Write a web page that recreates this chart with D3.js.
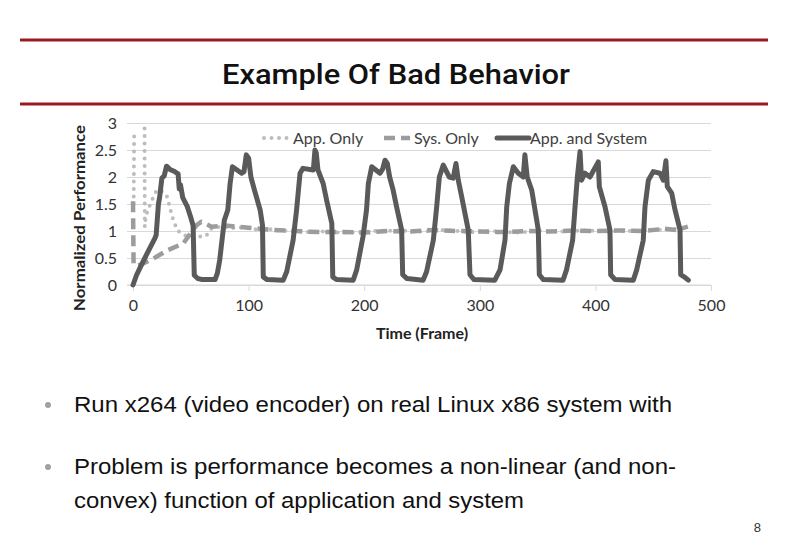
<!DOCTYPE html>
<html>
<head>
<meta charset="utf-8">
<script src="https://cdn.jsdelivr.net/npm/d3@7"></script>
<style>
  body { margin: 0; background: #fff; }
  svg { display: block; }
</style>
</head>
<body>
<div id="slide"></div>
<script>
// Data
const appSysFrames = [0, 3, 7, 13, 19, 20, 22, 23, 25, 27, 29, 32, 36, 39, 40, 41, 43, 47, 50, 52, 53, 56, 60, 71,
  73, 75, 79, 82, 84, 86, 90, 94, 96, 98, 100, 102, 105, 110, 112, 112.7, 116, 130,
  133, 138.5, 141.5, 144.5, 147, 156, 157.4, 158.5, 160, 164.5, 167.5, 172, 172.8, 176, 190.5,
  193.5, 199, 202, 203.6, 206.5, 213.7, 216, 218, 220, 222, 225, 228, 232.4, 233.3, 237, 251,
  254, 259.8, 262.7, 265, 268.4, 273.6, 277, 279.4, 281.4, 284.3, 290, 291.5, 295, 313,
  317.5, 321.8, 323.3, 325.6, 329, 333.3, 337.6, 339, 341, 344.9, 350.6, 351.5, 355, 372,
  375, 380.3, 382.4, 384.4, 386.7, 388, 391, 395.3, 402.5, 403.4, 408.3, 412.6, 413.2, 417, 432.8,
  435.7, 441.4, 442.9, 445.8, 450, 455.9, 458.7, 461, 462.2, 466, 468.9, 473.2, 473.8, 477.5, 480.4]
const appSysValues = [0, 0.18, 0.36, 0.62, 0.87, 0.92, 1.5, 1.62, 1.98, 2.02, 2.2, 2.14, 2.1, 2.06, 1.78, 1.86, 1.62, 1.45, 1.25, 1.1, 0.18, 0.12, 0.1, 0.1,
  0.22, 0.46, 1.2, 1.39, 1.88, 2.19, 2.13, 2.07, 2.1, 2.41, 2.35, 2.0, 1.76, 1.39, 1.11, 0.15, 0.1, 0.09,
  0.25, 0.83, 1.39, 2.07, 2.16, 2.13, 2.5, 2.45, 2.13, 1.88, 1.57, 1.14, 0.15, 0.1, 0.09,
  0.28, 0.9, 1.39, 1.88, 2.19, 2.07, 2.15, 2.31, 2.25, 2.0, 1.76, 1.45, 1.02, 0.19, 0.12, 0.09,
  0.25, 0.83, 1.45, 2.0, 2.22, 2.0, 1.98, 2.25, 1.94, 1.64, 1.02, 0.19, 0.1, 0.09,
  0.28, 0.83, 1.45, 1.88, 2.19, 2.07, 2.0, 2.41, 2.0, 1.76, 1.02, 0.19, 0.1, 0.09,
  0.28, 0.83, 1.45, 2.0, 2.47, 1.94, 2.07, 2.0, 2.28, 1.82, 1.45, 1.02, 0.19, 0.1, 0.09,
  0.28, 0.83, 1.45, 1.94, 2.1, 2.07, 1.94, 2.3, 1.82, 1.7, 1.39, 1.02, 0.19, 0.14, 0.09]

const sysFrames = [0, 0.5, 3, 6, 17.6, 30.5, 43.5, 55, 59, 68, 80, 100, 120, 140, 160, 180, 200, 220, 240,
  260, 280, 300, 320, 340, 360, 380, 400, 420, 440, 460, 470, 480]
const sysValues = [1.55, 0.4, 0.35, 0.37, 0.49, 0.65, 0.77, 1.11, 1.17, 1.08, 1.1, 1.06, 1.02, 1.0, 0.98, 0.98, 0.97, 1.0, 0.99,
  1.02, 1.0, 0.99, 0.98, 1.0, 0.99, 1.01, 1.0, 1.01, 1.0, 1.04, 1.02, 1.08]

// null marks a gap in the App. Only series
const appFrames = [0.6, 1, null, 10, 10.2, 11, 14, 17, 20.5, 25, 29, 31.4, 33.4, 35.5, 39, 46, 55, 63, 68, 75, 85, 95,
  105, 115, 125, 135, 150, 165, 180, 195, 210, 230, 250, 270, 290, 310, 330, 350, 370, 390, 410, 430, 450, 465, 480]
const appValues = [1.5, 2.88, null, 2.9, 1.08, 1.27, 1.45, 1.6, 1.76, 1.73, 1.67, 1.48, 1.31, 1.16, 1.0, 0.91, 0.9, 0.9, 1.05, 1.08, 1.05, 1.07,
  1.03, 1.05, 1.01, 1.0, 0.98, 0.99, 0.97, 0.98, 1.0, 1.01, 0.99, 1.02, 0.98, 1.0, 0.97, 1.0, 0.99, 1.01, 0.99, 1.0, 1.02, 1.03, 1.06]

const yTicks = [0, 0.5, 1, 1.5, 2, 2.5, 3]
const xTicks = [0, 100, 200, 300, 400, 500]
const seriesNames = ["App. Only", "Sys. Only", "App. and System"]

const WIDTH = 792
const HEIGHT = 540
const PLOT = { LEFT: 133, RIGHT: 711, TOP: 123, BOTTOM: 285 }

const svg = d3.select("#slide").append("svg")
  .attr("width", WIDTH)
  .attr("height", HEIGHT)

// Slide title and rules
svg.selectAll("line.rule")
  .data([40, 104])
  .enter().append("line")
  .attr("class", "rule")
  .attr("x1", 20).attr("x2", 768)
  .attr("y1", d => d).attr("y2", d => d)
  .attr("stroke", "#9b1c20")
  .attr("stroke-width", 3)

svg.append("text")
  .attr("x", 396)
  .attr("y", 84)
  .attr("text-anchor", "middle")
  .attr("font-family", "Roboto, 'Liberation Sans', sans-serif")
  .attr("font-size", "27px")
  .attr("font-weight", 500)
  .attr("textLength", 348)
  .attr("lengthAdjust", "spacingAndGlyphs")
  .attr("fill", "#111")
  .text("Example Of Bad Behavior")

// Scales
const x = d3.scaleLinear()
  .domain([0, 500])
  .range([PLOT.LEFT, PLOT.RIGHT])
const y = d3.scaleLinear()
  .domain([0, 3])
  .range([PLOT.BOTTOM, PLOT.TOP])

const chart = svg.append("g")
  .attr("font-family", "Lato, 'Open Sans', sans-serif")

// Gridlines
const yAxisCall = d3.axisLeft(y)
  .tickValues(yTicks)
  .tickSize(-(PLOT.RIGHT - PLOT.LEFT + 6))
  .tickPadding(16)
  .tickFormat(d3.format("~g"))
const yAxis = chart.append("g")
  .attr("class", "y axis")
  .attr("transform", `translate(${PLOT.LEFT - 6}, 0)`)
  .call(yAxisCall)
yAxis.select(".domain").remove()
yAxis.selectAll(".tick line").attr("stroke", "#d9d9d9").attr("stroke-width", 1.2)
yAxis.selectAll(".tick text")
  .attr("x", -10)
  .attr("font-size", "16px")
  .attr("fill", "#333")
  .attr("font-family", "Lato, 'Open Sans', sans-serif")

// X axis
const xAxisCall = d3.axisBottom(x)
  .tickValues(xTicks)
  .tickSize(6)
  .tickPadding(9)
const xAxis = chart.append("g")
  .attr("class", "x axis")
  .attr("transform", `translate(0, ${PLOT.BOTTOM})`)
  .call(xAxisCall)
xAxis.select(".domain")
  .attr("stroke", "#d9d9d9")
  .attr("d", `M${PLOT.LEFT - 6},0H${PLOT.RIGHT}`)
xAxis.selectAll(".tick line").attr("stroke", "#d9d9d9")
xAxis.selectAll(".tick text")
  .attr("font-size", "16px")
  .attr("fill", "#333")
  .attr("font-family", "Lato, 'Open Sans', sans-serif")

// Axis titles
chart.append("text")
  .attr("transform", "rotate(-90)")
  .attr("x", -218)
  .attr("y", 85)
  .attr("text-anchor", "middle")
  .attr("font-size", "15px")
  .attr("font-weight", "bold")
  .attr("fill", "#222")
  .attr("textLength", 186)
  .attr("lengthAdjust", "spacingAndGlyphs")
  .text("Normalized Performance")
chart.append("text")
  .attr("x", 422)
  .attr("y", 339)
  .attr("text-anchor", "middle")
  .attr("font-size", "16px")
  .attr("font-weight", "bold")
  .attr("fill", "#222")
  .text("Time (Frame)")

// Series
const toPoints = (fs, vs) => fs.map((f, i) => ({ f: f, v: vs[i] }))
const line = d3.line()
  .defined(d => d.f !== null && d.v !== null)
  .x(d => x(d.f))
  .y(d => y(d.v))

const styles = [
  { color: "#bdbdbd", width: 4, dash: "0 7.5", cap: "round" },
  { color: "#9c9c9c", width: 4.5, dash: "11 6", cap: "butt" },
  { color: "#5a5a5a", width: 5, dash: null, cap: "round" }
]
const seriesData = [
  toPoints(appFrames, appValues),
  toPoints(sysFrames, sysValues),
  toPoints(appSysFrames, appSysValues)
]

seriesData.forEach((pts, i) => {
  chart.append("path")
    .datum(pts)
    .attr("fill", "none")
    .attr("stroke", styles[i].color)
    .attr("stroke-width", styles[i].width)
    .attr("stroke-dasharray", styles[i].dash)
    .attr("stroke-linecap", styles[i].cap)
    .attr("stroke-linejoin", "round")
    .attr("d", line)
})

// Legend
const legendPos = [{ x: 264, w: 26, tx: 293 }, { x: 384, w: 26, tx: 414 }, { x: 497, w: 32, tx: 530 }]
seriesNames.forEach((name, i) => {
  const row = chart.append("g").attr("transform", `translate(0, 138)`)
  row.append("line")
    .attr("x1", legendPos[i].x).attr("x2", legendPos[i].x + legendPos[i].w)
    .attr("y1", 0).attr("y2", 0)
    .attr("stroke", styles[i].color)
    .attr("stroke-width", styles[i].width)
    .attr("stroke-dasharray", styles[i].dash)
    .attr("stroke-linecap", styles[i].cap)
  row.append("text")
    .attr("x", legendPos[i].tx)
    .attr("y", 6)
    .attr("font-size", "16px")
    .attr("fill", "#404040")
    .text(name)
})

// Bullets
const bullets = [
  { y: 412, lines: ["Run x264 (video encoder) on real Linux x86 system with"], widths: [598] },
  { y: 474, lines: ["Problem is performance becomes a non-linear (and non-", "convex) function of application and system"], widths: [602, 450] }
]
const body = svg.append("g")
  .attr("font-family", "'Liberation Sans', Arial, sans-serif")
bullets.forEach(b => {
  body.append("circle")
    .attr("cx", 48).attr("cy", b.y - 7).attr("r", 3)
    .attr("fill", "#a0a0a0")
  b.lines.forEach((t, j) => {
    body.append("text")
      .attr("x", 74)
      .attr("y", b.y + j * 34)
      .attr("font-size", "22px")
      .attr("textLength", b.widths[j])
      .attr("lengthAdjust", "spacingAndGlyphs")
      .attr("fill", "#111")
      .text(t)
  })
})

svg.append("text")
  .attr("x", 761)
  .attr("y", 532)
  .attr("text-anchor", "end")
  .attr("font-family", "'Liberation Sans', Arial, sans-serif")
  .attr("font-size", "13px")
  .attr("fill", "#333")
  .text("8")
</script>
</body>
</html>
